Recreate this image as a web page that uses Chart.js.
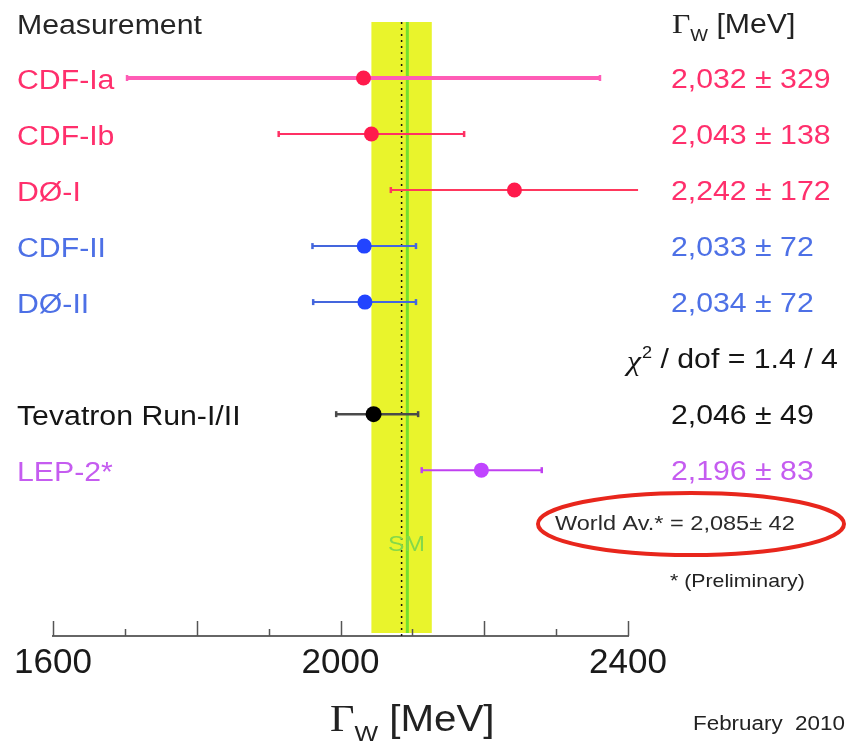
<!DOCTYPE html>
<html>
<head>
<meta charset="utf-8">
<script src="https://cdn.jsdelivr.net/npm/chart.js@4.4.1/dist/chart.umd.min.js"></script>
<style>
html,body{margin:0;padding:0;background:#fff;}
#wrap{width:847px;height:743px;}
</style>
</head>
<body>
<div id="wrap"><canvas id="c" width="847" height="743"></canvas></div>
<script>
// ---- data ----
const measurements = ['CDF-Ia', 'CDF-Ib', 'DØ-I', 'CDF-II', 'DØ-II', 'Tevatron Run-I/II', 'LEP-2*'];
const rows = [1, 2, 3, 4, 5, 7, 8];
const values = [2032, 2043, 2242, 2033, 2034, 2046, 2196];
const lowEdges = [1703, 1914, 2070, 1961, 1962, 1994, 2113];
const highEdges = [2361, 2172, 2414, 2105, 2105, 2108, 2280];
const valueTexts = ['2,032 ± 329', '2,043 ± 138', '2,242 ± 172', '2,033 ± 72', '2,034 ± 72', '2,046 ± 49', '2,196 ± 83'];
const worldAverage = 2085;
const worldError = 42;
const smValue = 2093;
const xTicks = [1600, 2000, 2400];

// ---- styles ----
const textColors = ['#ff2f6c', '#ff2f6c', '#ff2f6c', '#4d70e6', '#4d70e6', '#151515', '#c55cf0'];
const barColors = ['#ff5cb6', '#ff3064', '#ff385c', '#4466dd', '#4466dd', '#4a4a4a', '#c040f0'];
const barWidths = [4, 2, 2, 2, 2, 2.5, 2];
const markerColors = ['#ff1a4c', '#ff1a4c', '#ff1a4c', '#2244ff', '#2244ff', '#000000', '#c044ff'];
const markerRadii = [7.5, 7.5, 7.5, 7.5, 7.5, 8, 7.5];

const SANS = '"Liberation Sans", Arial, sans-serif';
const SERIF = '"Liberation Serif", "Times New Roman", serif';
const SX = 1.12;

function drawText(ctx, s, x, y, size, color, opt) {
  opt = opt || {};
  ctx.save();
  ctx.font = (opt.style || '') + ' ' + (opt.weight || 'normal') + ' ' + size + 'px ' + (opt.family || SANS);
  ctx.fillStyle = color;
  ctx.textBaseline = 'alphabetic';
  ctx.textAlign = 'left';
  ctx.translate(x, y);
  ctx.scale(opt.sx || SX, 1);
  ctx.fillText(s, 0, 0);
  const w = ctx.measureText(s).width * (opt.sx || SX);
  ctx.restore();
  return w;
}

function drawGammaW(ctx, x, y, size, color) {
  let cx = x;
  cx += drawText(ctx, 'Γ', cx, y, size * 1.05, color, {family: SERIF});
  cx += drawText(ctx, 'W', cx, y + size * 0.28, size * 0.62, color);
  cx += drawText(ctx, ' [MeV]', cx, y, size, color);
  return cx - x;
}

function drawChi(ctx, x, y, size, color) {
  let cx = x;
  cx += drawText(ctx, 'χ', cx, y + 2, size * 1.05, color, {family: SERIF, style: 'italic'});
  cx += drawText(ctx, '2', cx + 1, y - size * 0.38, size * 0.6, color);
  cx += drawText(ctx, ' / dof = 1.4 / 4', cx + 1, y, size, color);
}

const decorPlugin = {
  id: 'decor',
  beforeDatasetsDraw(chart) {
    const {ctx, chartArea: a, scales: {x}} = chart;
    ctx.save();
    // world average band
    const x0 = x.getPixelForValue(worldAverage - worldError);
    const x1 = x.getPixelForValue(worldAverage + worldError);
    ctx.fillStyle = '#e9f42c';
    ctx.fillRect(x0, a.top, x1 - x0, a.bottom - a.top - 3);
    // SM line
    const xs = x.getPixelForValue(smValue);
    ctx.strokeStyle = '#74e02c';
    ctx.lineWidth = 3;
    ctx.beginPath(); ctx.moveTo(xs, a.top); ctx.lineTo(xs, a.bottom - 3); ctx.stroke();
    // dotted average line
    const xa = x.getPixelForValue(worldAverage);
    ctx.strokeStyle = '#111';
    ctx.lineWidth = 1.5;
    ctx.setLineDash([2, 4]);
    ctx.beginPath(); ctx.moveTo(xa, a.top); ctx.lineTo(xa, a.bottom); ctx.stroke();
    ctx.setLineDash([]);
    ctx.restore();
  },
  afterDraw(chart) {
    const {ctx, chartArea: a, scales: {x, y}} = chart;
    // axis tick marks (pointing inward)
    ctx.save();
    ctx.strokeStyle = '#555';
    ctx.lineWidth = 1.5;
    for (let v = 1600; v <= 2400; v += 100) {
      const px = Math.round(x.getPixelForValue(v)) + 0.5;
      const len = (v % 200 === 0) ? 15 : 7;
      ctx.beginPath(); ctx.moveTo(px, a.bottom); ctx.lineTo(px, a.bottom - len); ctx.stroke();
    }
    ctx.restore();

    // headers
    drawText(ctx, 'Measurement', 17, y.getPixelForValue(0) + 12, 27, '#262626');
    drawGammaW(ctx, 672, y.getPixelForValue(0) + 11, 27, '#222');

    // row labels and values
    for (let i = 0; i < measurements.length; i++) {
      const py = y.getPixelForValue(rows[i]);
      drawText(ctx, measurements[i], 17, py + 11, 27, textColors[i]);
      drawText(ctx, valueTexts[i], 671, py + 10, 27, textColors[i]);
    }
    drawChi(ctx, 627, y.getPixelForValue(6) + 10, 27, '#151515');

    // SM label
    drawText(ctx, 'SM', 388, 551, 22, '#84d84a');

    // world average ellipse + text
    ctx.save();
    ctx.strokeStyle = '#e8261c';
    ctx.lineWidth = 4;
    ctx.beginPath();
    ctx.ellipse(691, 524, 153, 31, 0, 0, Math.PI * 2);
    ctx.stroke();
    ctx.restore();
    drawText(ctx, 'World Av.* = 2,085± 42', 555, 530, 21, '#2a2a2a');
    drawText(ctx, '* (Preliminary)', 670, 587, 19, '#222');

    // axis title and date
    drawGammaW(ctx, 330, 731, 36, '#222');
    drawText(ctx, 'February  2010', 693, 730, 20, '#222');
  }
};

const datasets = [];
datasets.push({
  label: 'measurements',
  data: values.map((v, i) => ({x: v, y: rows[i]})),
  pointBackgroundColor: markerColors,
  pointBorderColor: markerColors,
  pointRadius: markerRadii,
  pointBorderWidth: 0,
  showLine: false,
  clip: false
});
for (let i = 0; i < measurements.length; i++) {
  datasets.push({
    label: measurements[i] + ' range',
    data: [{x: lowEdges[i], y: rows[i]}, {x: highEdges[i], y: rows[i]}],
    showLine: true,
    clip: false,
    borderColor: barColors[i],
    borderWidth: barWidths[i],
    pointStyle: 'line',
    pointRotation: 90,
    pointRadius: 3,
    pointBorderColor: barColors[i],
    pointBorderWidth: 2.5
  });
}

new Chart(document.getElementById('c'), {
  type: 'scatter',
  data: {datasets},
  options: {
    responsive: false,
    devicePixelRatio: 1,
    animation: false,
    events: [],
    layout: {padding: {left: 53, right: 219, top: 22, bottom: 0}},
    plugins: {legend: {display: false}, tooltip: {enabled: false}},
    scales: {
      x: {
        type: 'linear',
        position: 'bottom',
        min: 1600, max: 2400,
        afterFit(scale) { scale.height = 107; },
        afterBuildTicks(scale) { scale.ticks = xTicks.map(v => ({value: v})); },
        grid: {display: false, drawTicks: false},
        border: {display: true, color: '#666', width: 2},
        ticks: {
          padding: 6,
          color: '#1a1a1a',
          font: {family: SANS, size: 35},
          maxRotation: 0,
          autoSkip: false,
          callback: v => String(v)
        }
      },
      y: {
        type: 'linear',
        display: false,
        min: 0, max: 10.96,
        reverse: true
      }
    }
  },
  plugins: [decorPlugin]
});
</script>
</body>
</html>
